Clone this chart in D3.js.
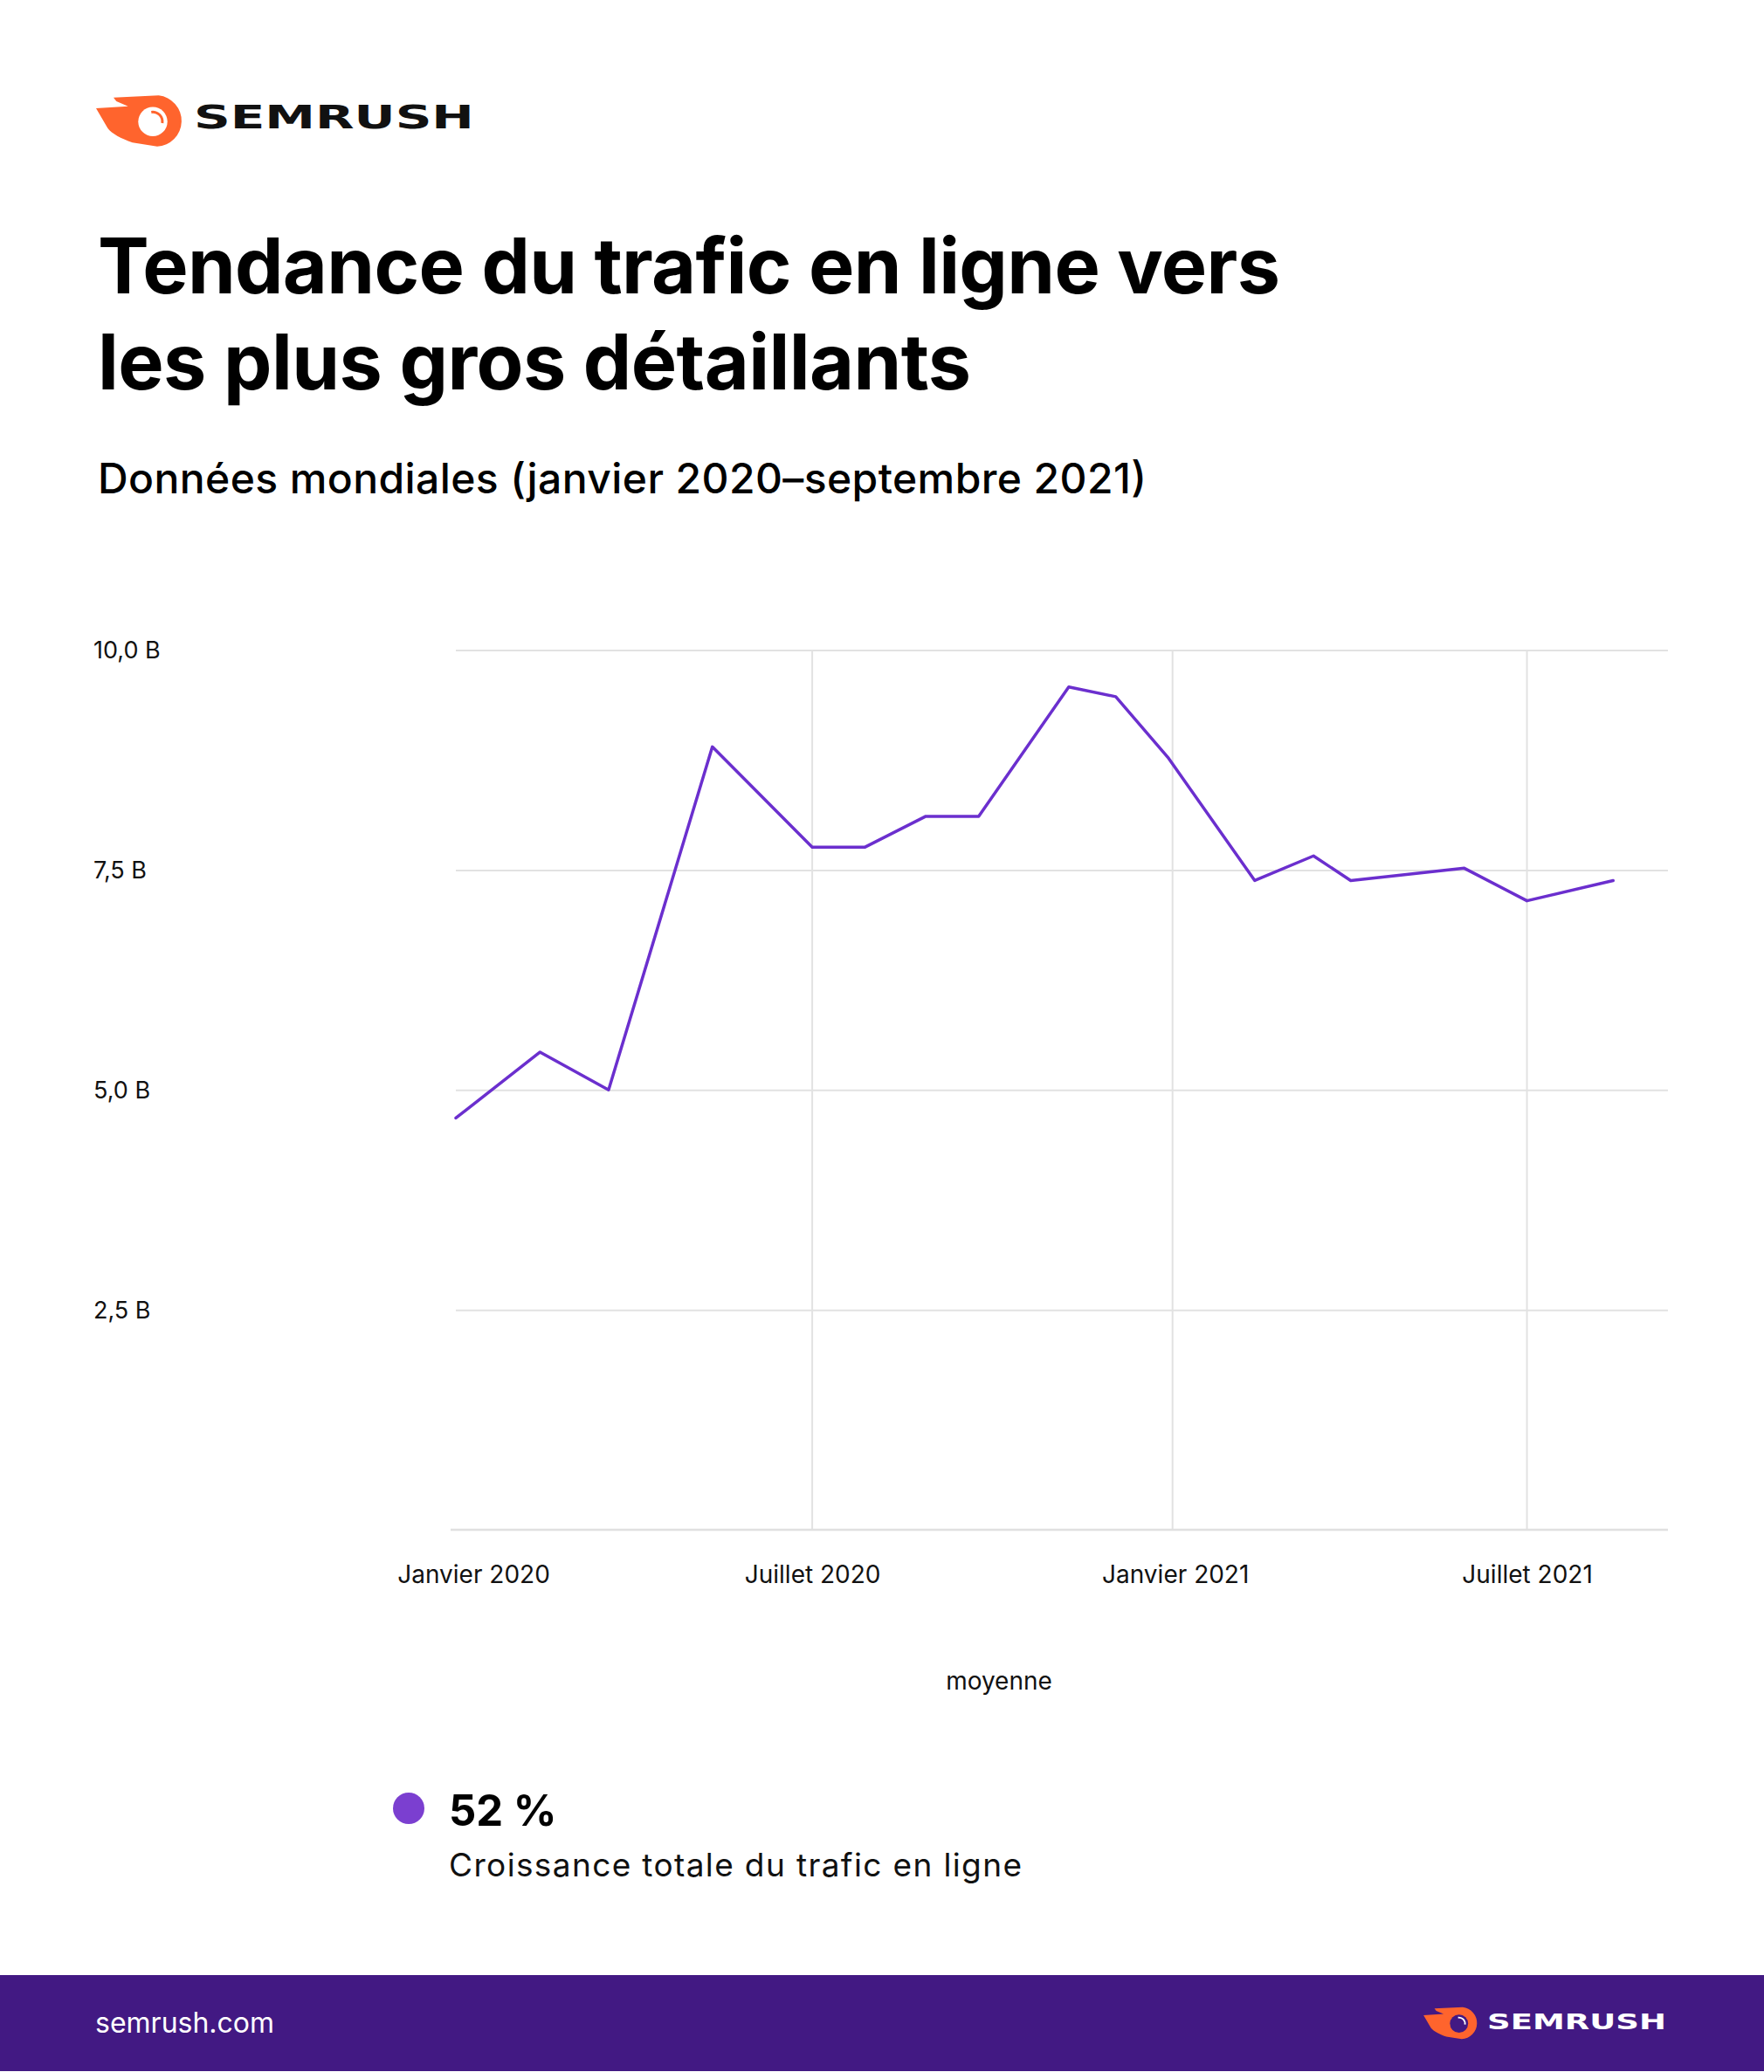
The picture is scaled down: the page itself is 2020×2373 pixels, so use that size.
<!DOCTYPE html>
<html><head><meta charset="utf-8">
<script src="https://cdn.jsdelivr.net/npm/d3@7"></script>
<style>body{margin:0;background:#fff} svg{display:block}</style>
</head><body>
<svg id="c" width="2020" height="2373"></svg>
<script>
// ---- data ----
const dates = ["2020-01-01","2020-02-13","2020-03-19","2020-05-11","2020-07-01","2020-07-28","2020-08-28","2020-09-24","2020-11-09","2020-12-03","2020-12-30","2021-02-12","2021-03-14","2021-04-02","2021-05-30","2021-07-01","2021-08-14"];
const values = [4.68,5.43,5.00,8.90,7.76,7.76,8.11,8.11,9.58,9.47,8.77,7.38,7.66,7.38,7.52,7.15,7.38];
const yTicks = [2.5,5,7.5,10];
const xTickDates = ["2020-01-01","2020-07-01","2021-01-01","2021-07-01"];
const xTickLabels = ["Janvier 2020","Juillet 2020","Janvier 2021","Juillet 2021"];
const titleLines = ["Tendance du trafic en ligne vers","les plus gros détaillants"];
const subtitle = "Données mondiales (janvier 2020–septembre 2021)";
const axisTitle = "moyenne";
const legendValue = "52 %";
const legendLabel = "Croissance totale du trafic en ligne";
const footerText = "semrush.com";
const brand = "SEMRUSH";

const parse = d3.timeParse("%Y-%m-%d");
const data = dates.map((d,i)=>({date:parse(d), value:values[i]}));

const svg = d3.select("#c");
const FONT = "Inter, 'Noto Sans', sans-serif";
const PURPLE = "#6b2fce";
const ORANGE = "#ff642d";
const FOOT = "#421983";

svg.append("rect").attr("width",2020).attr("height",2373).attr("fill","#fff");

// ---- logo ----
function logoIcon(g, inner, arcColor){
  g.append("path")
    .attr("d","M25,11.7 L76.7,9.3 A29.3,29.3 0 0 1 75,67.7 L46.7,63.3 C33.3,58.3 23.3,53.3 18.3,46.7 L5,24 L41.7,21.7 L28.3,16 Z")
    .attr("fill",ORANGE);
  g.append("circle").attr("cx",70).attr("cy",39.3).attr("r",16.7).attr("fill",inner);
  const arc = d3.arc()({innerRadius:9.5,outerRadius:12.5,startAngle:-0.05*Math.PI,endAngle:0.55*Math.PI});
  g.append("path").attr("d",arc).attr("transform","translate(70,39.3)").attr("fill",arcColor);
}
function fitText(sel, x0, width){
  const w = sel.node().getComputedTextLength();
  const k = width / w;
  sel.attr("transform",`translate(${x0},0) scale(${k},1)`).attr("x",0);
}
const lg = svg.append("g").attr("transform","translate(105,100)");
logoIcon(lg, "#fff", ORANGE);
const lt = svg.append("text").attr("y",147.5).attr("font-family","'DejaVu Sans', sans-serif")
  .attr("font-weight",700).attr("font-size",37.5).attr("fill","#111").text(brand);
fitText(lt, 222, 321);

// ---- title ----
const titleWidths = [1354, 1000];
titleLines.forEach((t,i)=>{
  svg.append("text").attr("x",112).attr("y",336+i*110)
    .attr("font-family",FONT).attr("font-weight",700).attr("font-size",88)
    .attr("fill","#000").attr("textLength",titleWidths[i]).attr("lengthAdjust","spacing").text(t);
});
svg.append("text").attr("x",112).attr("y",565)
  .attr("font-family",FONT).attr("font-weight",500).attr("font-size",48)
  .attr("fill","#000").attr("textLength",1201).attr("lengthAdjust","spacing").text(subtitle);

// ---- chart ----
const x = d3.scaleTime().domain([parse("2020-01-01"), parse("2021-09-11")]).range([522,1910]);
const y = d3.scaleLinear().domain([0,10]).range([1752,744.5]);
const fr = d3.formatLocale({decimal:",",thousands:" ",grouping:[3],currency:["","€"]});
const fmt = fr.format(".1f");

// horizontal gridlines
const yAxis = d3.axisLeft(y).tickValues(yTicks).tickSize(-(1910-522)).tickFormat("");
const gy = svg.append("g").attr("transform","translate(522,0)").call(yAxis);
gy.select(".domain").remove();
gy.selectAll(".tick line").attr("stroke","#e2e2e2").attr("stroke-width",2);
// y labels (left aligned)
svg.append("g").selectAll("text").data(yTicks).join("text")
  .attr("x",107).attr("y",d=>y(d)).attr("dy","0.35em")
  .attr("font-family",FONT).attr("font-size",27).attr("fill","#111")
  .text(d=>fmt(d)+" B");

// vertical gridlines + x labels
const xt = xTickDates.map(parse);
const xAxis = d3.axisBottom(x).tickValues(xt).tickSize(0).tickPadding(0)
  .tickFormat((d,i)=>xTickLabels[i]);
const gx = svg.append("g").attr("transform","translate(0,1752)").call(xAxis);
gx.select(".domain").remove();
gx.selectAll(".tick text").attr("font-family",FONT).attr("font-size",28).attr("fill","#111")
  .attr("y",61).attr("dy",0)
  .attr("dx",(d,i)=> i===0 ? 20 : (i===2 ? 3 : 0));
svg.append("g").selectAll("line").data(xt.slice(1)).join("line")
  .attr("x1",d=>x(d)).attr("x2",d=>x(d)).attr("y1",y(10)).attr("y2",y(0))
  .attr("stroke","#e2e2e2").attr("stroke-width",2);
// baseline
svg.append("line").attr("x1",516).attr("x2",1910).attr("y1",y(0)).attr("y2",y(0))
  .attr("stroke","#e0e0e0").attr("stroke-width",2.5);

// line
const line = d3.line().x(d=>x(d.date)).y(d=>y(d.value));
svg.append("path").datum(data).attr("d",line).attr("fill","none")
  .attr("stroke",PURPLE).attr("stroke-width",3.5).attr("stroke-linejoin","round").attr("stroke-linecap","round");

// axis title
svg.append("text").attr("x",1144).attr("y",1935).attr("text-anchor","middle")
  .attr("font-family",FONT).attr("font-size",28).attr("fill","#111").text(axisTitle);

// ---- legend ----
svg.append("circle").attr("cx",468).attr("cy",2071).attr("r",18).attr("fill","#7b3fd0");
svg.append("text").attr("x",514).attr("y",2091).attr("font-family",FONT).attr("font-weight",700)
  .attr("font-size",49).attr("fill","#000").text(legendValue);
svg.append("text").attr("x",514).attr("y",2149).attr("font-family",FONT)
  .attr("font-size",37).attr("fill","#111").attr("textLength",656).attr("lengthAdjust","spacing").text(legendLabel);

// ---- footer ----
svg.append("rect").attr("x",0).attr("y",2262).attr("width",2020).attr("height",110).attr("fill",FOOT);
svg.append("text").attr("x",109).attr("y",2328).attr("font-family",FONT).attr("font-size",32)
  .attr("fill","#fff").text(footerText);
const fg = svg.append("g").attr("transform","translate(1627,2293) scale(0.625)");
logoIcon(fg, FOOT, "#fff");
const ft = svg.append("text").attr("y",2324).attr("font-family","'DejaVu Sans', sans-serif")
  .attr("font-weight",700).attr("font-size",24).attr("fill","#fff").text(brand);
fitText(ft, 1703, 205);
</script>
</body></html>
